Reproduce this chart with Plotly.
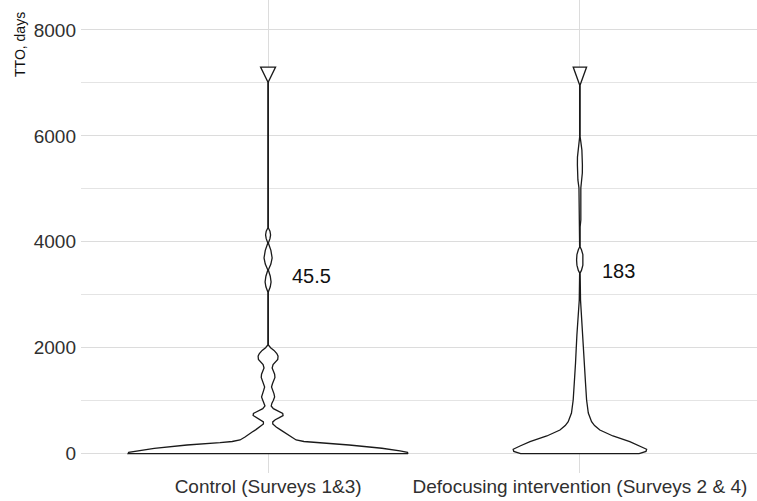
import plotly.graph_objects as go

# Categories and labels
categories = ["Control (Surveys 1&3)", "Defocusing intervention (Surveys 2 & 4)"]
cat_pos = [1, 2]

# Violin outlines: TTO (days) and half-width (fraction of category band)
control_days = [0, 26, 51, 102, 164, 208, 230, 259, 315, 360, 410, 450, 504, 560, 600, 640,
                680, 720, 760, 800, 850, 900, 950, 1010, 1071, 1130, 1200, 1259, 1320, 1380,
                1440, 1500, 1570, 1618, 1680, 1730, 1780, 1840, 1890, 1950, 2000, 2053,
                3054, 3150, 3243, 3350, 3469, 3580, 3695, 3840, 3979, 4060, 4130, 4200, 4262,
                7020, 7300]
control_hw = [0.449, 0.447, 0.423, 0.365, 0.260, 0.154, 0.115, 0.090, 0.074, 0.062, 0.051,
              0.040, 0.026, 0.015, 0.015, 0.023, 0.036, 0.048, 0.047, 0.033, 0.017, 0.010,
              0.012, 0.017, 0.021, 0.019, 0.014, 0.011, 0.014, 0.019, 0.022, 0.021, 0.016,
              0.013, 0.016, 0.024, 0.031, 0.032, 0.028, 0.019, 0.008, 0.0008,
              0.0008, 0.007, 0.0096, 0.007, 0.0008, 0.009, 0.013, 0.009, 0.0008, 0.006,
              0.008, 0.006, 0.0008, 0.0008, 0.024]

defoc_days = [0, 19, 42, 83, 145, 227, 334, 447, 530, 604, 768, 1014, 1335, 1712, 1850, 1958,
              2241, 2525, 2902, 3412, 3460, 3560, 3658, 3760, 3850, 3903, 4280, 4413, 5017,
              5168, 5300, 5451, 5600, 5735, 5886, 5980, 6962, 7300]
defoc_hw = [0.190, 0.202, 0.212, 0.214, 0.192, 0.160, 0.106, 0.064, 0.047, 0.0375, 0.027,
            0.0215, 0.018, 0.014, 0.0135, 0.012, 0.0096, 0.005, 0.0020, 0.0008, 0.005, 0.0095,
            0.0106, 0.0095, 0.005, 0.0008, 0.0008, 0.003, 0.003, 0.0064, 0.0078, 0.008,
            0.0078, 0.0064, 0.003, 0.0008, 0.0008, 0.0215]

# Median labels
medians = ["45.5", "183"]
median_y = [3346, 3440]
median_xoff = [0.0705, 0.064]

y_ticks = [0, 2000, 4000, 6000, 8000]

fig = go.Figure()


def outline(center, days, hw):
    xs = [center + w for w in hw] + [center - w for w in reversed(hw)] + [center + hw[0]]
    ys = list(days) + list(reversed(days)) + [days[0]]
    return xs, ys


for c, d, w in [(cat_pos[0], control_days, control_hw), (cat_pos[1], defoc_days, defoc_hw)]:
    xs, ys = outline(c, d, w)
    fig.add_trace(go.Scatter(x=xs, y=ys, mode="lines", fill="toself", fillcolor="white",
                             line=dict(color="#1a1a1a", width=1.3),
                             hoverinfo="skip", showlegend=False))

for i, txt in enumerate(medians):
    fig.add_annotation(x=cat_pos[i] + median_xoff[i], y=median_y[i], text=txt, showarrow=False,
                       xanchor="left", yanchor="middle",
                       font=dict(size=20, color="#111111", family="Liberation Sans, Arial"))

fig.add_annotation(xref="paper", yref="paper", x=-0.0902, y=0.905, text="TTO, days",
                   textangle=-90, showarrow=False, xanchor="center", yanchor="middle",
                   font=dict(size=14, color="#111111", family="Liberation Sans, Arial"))

fig.update_layout(
    width=757, height=501,
    margin=dict(l=81, r=0, t=0, b=28),
    plot_bgcolor="white", paper_bgcolor="white",
    font=dict(family="Liberation Sans, Arial", color="#303030"),
    xaxis=dict(range=[0.4, 2.568], tickvals=cat_pos, ticktext=categories,
               showgrid=True, gridcolor="#dcdcdc", gridwidth=1, zeroline=False,
               showline=False, ticks="", tickfont=dict(size=19, color="#303030")),
    yaxis=dict(range=[-365, 8566], tickvals=y_ticks, tickformat="d", ticklabelstandoff=4,
               showgrid=True, gridcolor="#dcdcdc", gridwidth=1, zeroline=False,
               showline=False, ticks="", tickfont=dict(size=19, color="#303030"),
               minor=dict(dtick=1000, tick0=0, showgrid=True, gridcolor="#e4e4e4", gridwidth=1)),
)

fig.write_html("out.html")
